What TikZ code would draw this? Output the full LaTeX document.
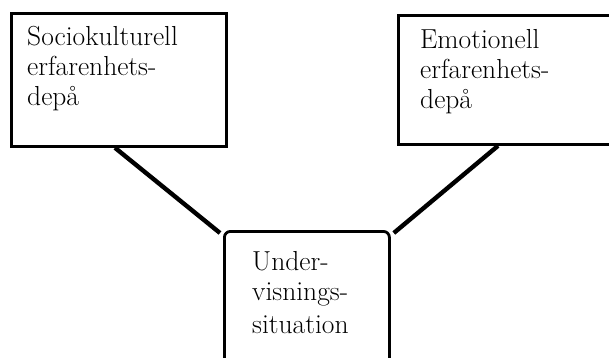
\documentclass[tikz,border=0pt]{standalone}
\usetikzlibrary{calc}
\begin{document}
\begin{tikzpicture}[x=1pt,y=-1pt,
  box/.style={draw=black,line width=2.8pt,rectangle,inner sep=0pt},
  conn/.style={draw=black,line width=4.4pt},
  lbl/.style={anchor=base west,inner sep=0pt,font=\fontsize{27.5}{30}\selectfont,align=left}]
\useasboundingbox (0,0) rectangle (609,357);
\clip (0,0) rectangle (609,357);
\fill[white] (0,0) rectangle (609,357);
% boxes
\node[box,minimum width=215pt,minimum height=133pt,anchor=north west] (lbox) at (10,12) {};
\node[box,minimum width=225pt,minimum height=129pt,anchor=north west] (rbox) at (397,14) {};
\node[box,rounded corners=6pt,minimum width=165pt,minimum height=150pt,anchor=north west] (ubox) at (223,230) {};
% texts
\node[lbl] (t1) at (27,45) {Sociokulturell};
\node[lbl] (t2) at (27,75) {erfarenhets-};
\node[lbl] (t3) at (27,105) {depå};
\node[lbl] (t4) at (420,48) {Emotionell};
\node[lbl] (t5) at (420,78) {erfarenhets-};
\node[lbl] (t6) at (420,108) {depå};
\node[lbl] (t7) at (252,270) {Under-};
\node[lbl] (t8) at (252,300) {visnings-};
\node[lbl] (t9) at (252,333) {situation};
% connectors
\draw[conn] ([xshift=105pt]lbox.south west) -- ([xshift=-3pt,yshift=-3pt]ubox.north west);
\draw[conn] ([xshift=101pt]rbox.south west) -- ([xshift=3pt,yshift=-3pt]ubox.north east);
\end{tikzpicture}
\end{document}
